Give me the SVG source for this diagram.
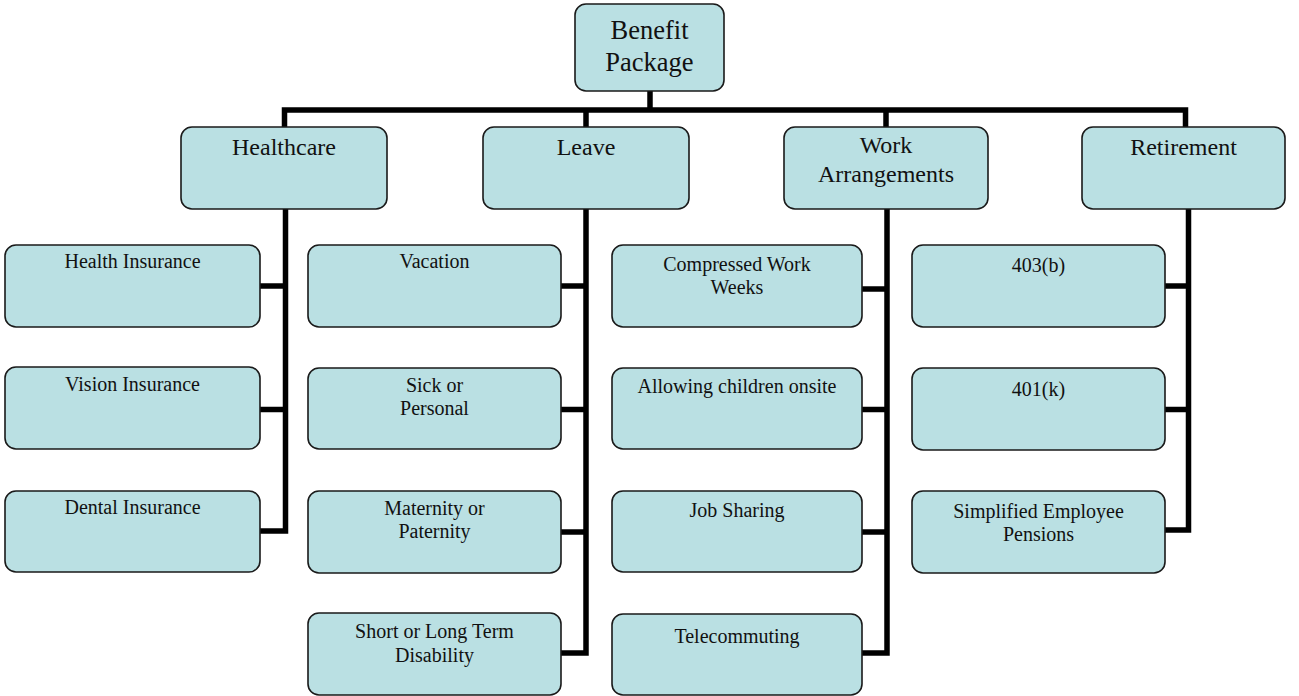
<svg xmlns="http://www.w3.org/2000/svg" width="1299" height="696" viewBox="0 0 1299 696">
<style>
.box{fill:#BAE0E3;stroke:#1a1a1a;stroke-width:1.6}
.t{font-family:"Liberation Serif","Times New Roman",serif;fill:#111;text-anchor:middle}
.t0{font-size:26.5px}
.t1{font-size:24px}
.t2{font-size:20px}
.c{fill:none;stroke:#000;stroke-width:5.5;stroke-linejoin:miter;stroke-linecap:butt}
</style>
<rect width="1299" height="696" fill="#fff"/>
<g id="connectors">
<path class="c" d="M650,91 V110"/>
<path class="c" d="M284.5,127 V110 H1185.5 V127"/>
<path class="c" d="M586,110 V127"/>
<path class="c" d="M886,110 V127"/>
<path class="c" d="M285.5,209 V531 H260"/>
<path class="c" d="M260,286 H285.5"/>
<path class="c" d="M260,409.5 H285.5"/>
<path class="c" d="M586,209 V653 H561"/>
<path class="c" d="M561,286 H586"/>
<path class="c" d="M561,409.5 H586"/>
<path class="c" d="M561,532 H586"/>
<path class="c" d="M887,209 V653 H862"/>
<path class="c" d="M862,289 H887"/>
<path class="c" d="M862,409.5 H887"/>
<path class="c" d="M862,532 H887"/>
<path class="c" d="M1188.5,209 V530 H1165"/>
<path class="c" d="M1165,286 H1188.5"/>
<path class="c" d="M1165,409.5 H1188.5"/>
</g>
<g id="benefit-package">
<rect class="box" x="575" y="4" width="149" height="87" rx="11"/>
<text class="t t0" x="649.5" y="39">Benefit</text>
<text class="t t0" x="649.5" y="71">Package</text>
</g>
<g id="healthcare">
<rect class="box" x="181" y="127" width="206" height="82" rx="11"/>
<text class="t t1" x="284" y="155">Healthcare</text>
</g>
<g id="leave">
<rect class="box" x="483" y="127" width="206" height="82" rx="11"/>
<text class="t t1" x="586" y="155">Leave</text>
</g>
<g id="work-arrangements">
<rect class="box" x="784" y="127" width="204" height="82" rx="11"/>
<text class="t t1" x="886" y="153">Work</text>
<text class="t t1" x="886" y="182">Arrangements</text>
</g>
<g id="retirement">
<rect class="box" x="1082" y="127" width="203" height="82" rx="11"/>
<text class="t t1" x="1183.5" y="155">Retirement</text>
</g>
<g id="health-insurance">
<rect class="box" x="5" y="245" width="255" height="82" rx="11"/>
<text class="t t2" x="132.5" y="268">Health Insurance</text>
</g>
<g id="vision-insurance">
<rect class="box" x="5" y="367" width="255" height="82" rx="11"/>
<text class="t t2" x="132.5" y="391">Vision Insurance</text>
</g>
<g id="dental-insurance">
<rect class="box" x="5" y="491" width="255" height="81" rx="11"/>
<text class="t t2" x="132.5" y="514">Dental Insurance</text>
</g>
<g id="vacation">
<rect class="box" x="308" y="245" width="253" height="82" rx="11"/>
<text class="t t2" x="434.5" y="268">Vacation</text>
</g>
<g id="sick-or-personal">
<rect class="box" x="308" y="368" width="253" height="81" rx="11"/>
<text class="t t2" x="434.5" y="392">Sick or</text>
<text class="t t2" x="434.5" y="415">Personal</text>
</g>
<g id="maternity-or-paternity">
<rect class="box" x="308" y="491" width="253" height="82" rx="11"/>
<text class="t t2" x="434.5" y="515">Maternity or</text>
<text class="t t2" x="434.5" y="538">Paternity</text>
</g>
<g id="short-or-long-term-disability">
<rect class="box" x="308" y="613" width="253" height="82" rx="11"/>
<text class="t t2" x="434.5" y="638">Short or Long Term</text>
<text class="t t2" x="434.5" y="662">Disability</text>
</g>
<g id="compressed-work-weeks">
<rect class="box" x="612" y="245" width="250" height="82" rx="11"/>
<text class="t t2" x="737" y="271">Compressed Work</text>
<text class="t t2" x="737" y="294">Weeks</text>
</g>
<g id="allowing-children-onsite">
<rect class="box" x="612" y="368" width="250" height="81" rx="11"/>
<text class="t t2" x="737" y="393">Allowing children onsite</text>
</g>
<g id="job-sharing">
<rect class="box" x="612" y="491" width="250" height="81" rx="11"/>
<text class="t t2" x="737" y="517">Job Sharing</text>
</g>
<g id="telecommuting">
<rect class="box" x="612" y="614" width="250" height="81" rx="11"/>
<text class="t t2" x="737" y="643">Telecommuting</text>
</g>
<g id="b403">
<rect class="box" x="912" y="245" width="253" height="82" rx="11"/>
<text class="t t2" x="1038.5" y="272">403(b)</text>
</g>
<g id="k401">
<rect class="box" x="912" y="368" width="253" height="82" rx="11"/>
<text class="t t2" x="1038.5" y="396">401(k)</text>
</g>
<g id="simplified-employee-pensions">
<rect class="box" x="912" y="491" width="253" height="82" rx="11"/>
<text class="t t2" x="1038.5" y="518">Simplified Employee</text>
<text class="t t2" x="1038.5" y="541">Pensions</text>
</g>
</svg>
